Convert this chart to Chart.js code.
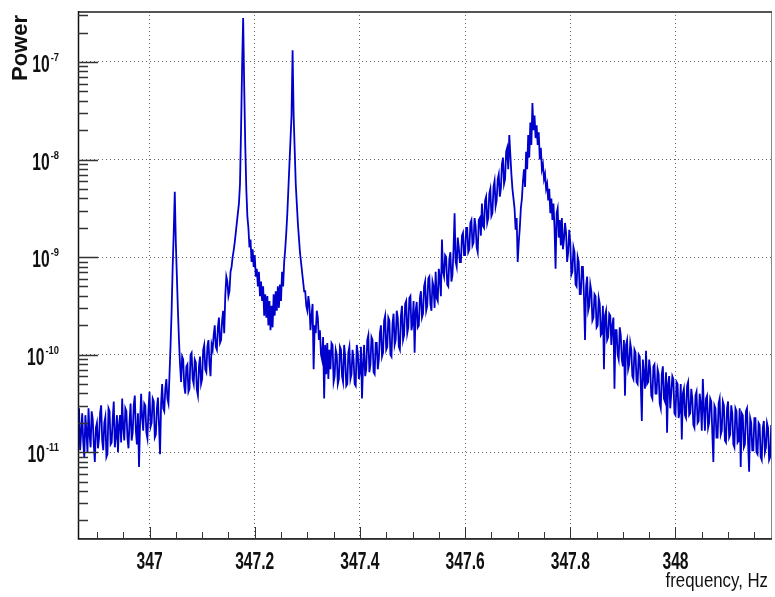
<!DOCTYPE html>
<html>
<head>
<meta charset="utf-8">
<script src="https://cdn.jsdelivr.net/npm/chart.js@4.4.0/dist/chart.umd.min.js"></script>
<style>
  html, body { margin: 0; padding: 0; background: #fff; }
  canvas { display: block; }
</style>
</head>
<body>
<canvas id="spectrum" width="775" height="597"></canvas>
<script>
// frequency bins (Hz) of the spectrum
const freqStart = 346.864;
const freqStep = 0.002;

// log10(power) per bin
const logPower = [
  -10.72, -10.55, -10.98, -10.80, -10.60, -10.90, -11.05, -10.62, -10.78, -11.00, -10.55, -10.82, -10.95, -10.58, -10.66, -10.92, -11.10, -10.75, -10.70, -10.96,
  -10.85, -10.60, -10.52, -10.88, -10.98, -10.70, -10.64, -11.05, -11.02, -10.55, -10.58, -10.92, -10.90, -10.66, -10.48, -10.95, -10.84, -10.62, -11.00, -10.72,
  -10.62, -10.90, -10.45, -10.75, -10.88, -10.55, -10.58, -10.85, -10.96, -10.68, -10.50, -10.88, -10.80, -10.52, -10.42, -10.78, -10.92, -10.60, -11.15, -10.70,
  -10.40, -10.65, -10.78, -10.50, -10.52, -10.80, -10.86, -10.56, -10.38, -10.74, -10.70, -10.45, -10.48, -10.85, -10.82, -10.55, -10.44, -10.72, -11.02, -10.50,
  -10.30, -10.55, -10.58, -10.35, -10.25, -10.45, -10.50, -10.20, -9.90, -9.55, -9.10, -8.75, -8.33, -8.85, -9.20, -9.55, -9.85, -10.10, -10.28, -10.02,
  -10.05, -10.32, -10.40, -10.12, -10.10, -10.38, -10.35, -10.00, -9.98, -10.25, -10.30, -10.05, -10.08, -10.36, -10.42, -10.12, -10.02, -10.30, -10.25, -9.95,
  -9.90, -10.15, -10.18, -9.92, -9.85, -10.10, -10.22, -9.90, -9.95, -9.80, -9.70, -9.92, -9.95, -9.72, -9.62, -9.88, -9.85, -9.65, -9.55, -9.78,
  -9.40, -9.20, -9.25, -9.40, -9.35, -9.15, -9.10, -9.00, -8.93, -8.85, -8.75, -8.65, -8.55, -8.45, -8.25, -7.70, -7.05, -6.55, -7.25, -7.85,
  -8.30, -8.58, -8.70, -8.90, -8.82, -9.05, -8.92, -9.10, -8.98, -9.20, -9.12, -9.30, -9.15, -9.40, -9.25, -9.45, -9.30, -9.60, -9.38, -9.62,
  -9.40, -9.70, -9.45, -9.75, -9.50, -9.72, -9.38, -9.60, -9.35, -9.55, -9.30, -9.52, -9.28, -9.45, -9.15, -9.30, -9.05, -8.92, -8.75, -8.55,
  -8.30, -8.05, -7.80, -7.55, -6.88, -7.55, -7.90, -8.25, -8.45, -8.65, -8.80, -8.95, -9.05, -9.15, -9.25, -9.35, -9.35, -9.50, -9.55, -9.40,
  -9.50, -9.75, -9.60, -9.48, -10.15, -9.70, -9.78, -9.55, -9.62, -9.85, -9.75, -10.00, -10.05, -9.82, -10.45, -9.90, -10.20, -9.88, -10.25, -9.95,
  -10.15, -9.88, -9.90, -10.28, -10.22, -9.95, -10.00, -10.30, -10.25, -9.92, -9.95, -10.22, -10.28, -9.90, -10.02, -10.32, -10.30, -9.98, -9.92, -10.25,
  -10.20, -9.95, -10.05, -10.30, -10.32, -9.90, -9.98, -10.25, -10.18, -9.92, -10.45, -10.10, -9.90, -10.22, -10.15, -9.85, -9.80, -10.18, -10.10, -9.82,
  -9.85, -10.18, -10.20, -9.88, -9.88, -10.15, -10.05, -9.78, -9.70, -10.02, -9.98, -9.65, -9.60, -9.95, -9.92, -9.62, -9.65, -10.00, -10.02, -9.68,
  -9.58, -9.90, -9.85, -9.55, -9.62, -9.92, -9.95, -9.60, -9.50, -9.85, -9.80, -9.48, -9.45, -9.78, -9.72, -9.42, -9.40, -9.75, -9.68, -9.45,
  -9.98, -9.55, -9.46, -9.72, -9.70, -9.42, -9.35, -9.62, -9.58, -9.30, -9.25, -9.55, -9.50, -9.22, -9.20, -9.48, -9.55, -9.25, -9.30, -9.52,
  -9.15, -9.42, -9.45, -9.12, -9.22, -9.40, -8.82, -9.15, -9.20, -8.98, -9.00, -9.28, -9.30, -9.02, -8.95, -9.25, -9.18, -8.92, -8.55, -9.05,
  -9.10, -8.80, -8.90, -9.05, -9.05, -8.78, -8.75, -8.98, -8.98, -8.70, -8.70, -8.95, -8.92, -8.65, -8.62, -8.88, -8.85, -8.60, -8.68, -8.90,
  -8.95, -8.62, -8.60, -8.78, -8.45, -8.68, -8.70, -8.42, -8.38, -8.65, -8.60, -8.35, -8.30, -8.58, -8.55, -8.28, -8.22, -8.48, -8.42, -8.20,
  -8.15, -8.38, -8.30, -8.05, -7.98, -8.25, -8.20, -7.92, -7.88, -8.10, -7.75, -7.95, -8.15, -8.30, -8.40, -8.50, -8.72, -8.60, -9.05, -8.85,
  -8.70, -8.50, -8.40, -8.22, -8.10, -8.28, -7.92, -8.10, -7.75, -7.98, -7.62, -7.85, -7.42, -7.70, -7.55, -7.78, -7.65, -7.85, -7.72, -8.00,
  -7.88, -8.10, -8.05, -8.20, -8.15, -8.30, -8.25, -8.42, -8.30, -8.55, -8.40, -8.62, -8.45, -8.70, -9.12, -8.55, -8.50, -8.80, -8.62, -8.88,
  -8.60, -8.92, -8.82, -8.65, -8.75, -9.05, -8.95, -8.72, -8.85, -9.18, -9.15, -8.90, -8.95, -9.28, -9.30, -9.00, -9.05, -9.38, -9.38, -9.10,
  -9.10, -9.40, -9.85, -9.30, -9.20, -9.55, -9.50, -9.28, -9.35, -9.65, -9.62, -9.38, -9.40, -9.72, -9.70, -9.42, -9.48, -9.80, -9.78, -9.50,
  -10.15, -9.60, -9.55, -9.85, -9.82, -9.58, -9.60, -9.90, -9.70, -9.62, -10.35, -9.75, -9.75, -10.00, -10.05, -9.72, -9.80, -10.05, -10.12, -9.85,
  -10.42, -9.90, -9.85, -10.15, -10.10, -9.88, -9.95, -10.22, -10.25, -9.95, -9.98, -10.28, -10.30, -10.00, -10.02, -10.30, -10.68, -10.05, -10.20, -10.35,
  -9.96, -10.30, -10.28, -10.05, -10.15, -10.42, -10.45, -10.12, -10.10, -10.40, -10.40, -10.15, -10.20, -10.50, -10.55, -10.20, -10.12, -10.45, -10.48, -10.18,
  -10.80, -10.30, -10.22, -10.55, -10.40, -10.22, -10.25, -10.60, -10.62, -10.28, -10.30, -10.65, -10.58, -10.30, -10.87, -10.40, -10.35, -10.62, -10.65, -10.32,
  -10.28, -10.62, -10.60, -10.35, -10.45, -10.72, -10.75, -10.42, -10.38, -10.70, -10.68, -10.40, -10.50, -10.78, -10.25, -10.55, -10.78, -10.45, -10.42, -10.75,
  -10.70, -10.45, -10.48, -10.80, -11.10, -10.52, -10.55, -10.85, -10.85, -10.50, -10.45, -10.82, -10.78, -10.48, -10.52, -10.88, -10.90, -10.55, -10.48, -10.85,
  -10.82, -10.52, -10.60, -10.92, -10.95, -10.55, -10.58, -10.90, -10.88, -10.55, -11.15, -10.60, -10.62, -10.95, -10.92, -10.58, -10.55, -10.90, -11.20, -10.65,
  -10.70, -10.98, -10.98, -10.65, -10.65, -11.00, -11.02, -10.70, -10.72, -11.05, -11.08, -10.75, -10.68, -11.00, -10.95, -10.70, -10.75, -11.08, -11.05, -10.72
];

const xTickValues = [347, 347.2, 347.4, 347.6, 347.8, 348];
const xTickLabels = ['347', '347.2', '347.4', '347.6', '347.8', '348'];
const yTickExponents = [-11, -10, -9, -8, -7];

const points = logPower.map((lp, i) => ({
  x: freqStart + i * freqStep,
  y: Math.pow(10, lp)
}));

// draw condensed text (the original labels are narrow)
function squeezeText(ctx, txt, x, y, font, align, sx) {
  ctx.save();
  ctx.translate(x, y);
  ctx.scale(sx, 1);
  ctx.font = font;
  ctx.textAlign = align;
  ctx.textBaseline = 'alphabetic';
  ctx.fillText(txt, 0, 0);
  ctx.restore();
}

const axisDecor = {
  id: 'axisDecor',
  afterDraw(chart) {
    const { ctx, chartArea: a } = chart;
    const xs = chart.scales.x;
    const ys = chart.scales.y;
    ctx.save();

    // frame
    ctx.lineWidth = 1;
    ctx.strokeStyle = '#888';
    ctx.strokeRect(a.left + 0.5, a.top + 0.5, a.right - a.left - 1, a.bottom - a.top - 1);
    ctx.strokeStyle = '#555';
    ctx.lineWidth = 2;
    ctx.beginPath();
    ctx.moveTo(a.left, a.top + 1);
    ctx.lineTo(a.right, a.top + 1);
    ctx.stroke();
    ctx.strokeStyle = '#111';
    ctx.lineWidth = 1.5;
    ctx.beginPath();
    ctx.moveTo(a.left + 0.5, a.top);
    ctx.lineTo(a.left + 0.5, a.bottom);
    ctx.lineTo(a.right, a.bottom);
    ctx.stroke();

    // y ticks, pointing inwards
    ctx.strokeStyle = '#333';
    ctx.lineWidth = 1.5;
    for (let e = -12; e <= -7; e++) {
      for (let k = 1; k <= 9; k++) {
        const v = k * Math.pow(10, e);
        if (v < ys.min || v > ys.max) continue;
        const py = Math.round(ys.getPixelForValue(v)) + 0.5;
        const len = k === 1 ? 20 : 10;
        ctx.beginPath();
        ctx.moveTo(a.left, py);
        ctx.lineTo(a.left + len, py);
        ctx.stroke();
      }
    }

    // x ticks every 0.05 Hz, pointing inwards
    ctx.lineWidth = 1;
    for (let m = 34690; m / 100 <= xs.max; m += 5) {
      const px = Math.round(xs.getPixelForValue(m / 100)) + 0.5;
      const len = m % 20 === 0 ? 12 : 7;
      ctx.beginPath();
      ctx.moveTo(px, a.bottom);
      ctx.lineTo(px, a.bottom - len);
      ctx.stroke();
    }

    ctx.fillStyle = '#111';
    // x tick labels
    xTickValues.forEach((v, i) => {
      squeezeText(ctx, xTickLabels[i], xs.getPixelForValue(v), 569, 'bold 23px "Liberation Sans", Arial', 'center', 0.68);
    });

    // y tick labels: 10 with superscript exponent
    yTickExponents.forEach(e => {
      const py = ys.getPixelForValue(Math.pow(10, e));
      const expTxt = String(e);
      ctx.font = 'bold 11px "Liberation Sans", Arial';
      const w = ctx.measureText(expTxt).width * 0.85;
      squeezeText(ctx, expTxt, 59 - w, py - 1, 'bold 11px "Liberation Sans", Arial', 'left', 0.85);
      squeezeText(ctx, '10', 59 - w - 1, py + 10, 'bold 23px "Liberation Sans", Arial', 'right', 0.68);
    });

    // axis titles
    squeezeText(ctx, 'frequency, Hz', 768, 587, '21px "Liberation Sans", Arial', 'right', 0.8);
    ctx.save();
    ctx.translate(27, 48);
    ctx.rotate(-Math.PI / 2);
    ctx.font = 'bold 22px "Liberation Sans", Arial';
    ctx.textAlign = 'center';
    ctx.fillText('Power', 0, 0);
    ctx.restore();

    ctx.restore();
  }
};

new Chart(document.getElementById('spectrum'), {
  type: 'line',
  data: {
    datasets: [{
      data: points,
      borderColor: 'rgb(0, 0, 205)',
      borderWidth: 1.8,
      pointRadius: 0,
      tension: 0
    }]
  },
  options: {
    responsive: false,
    devicePixelRatio: 1,
    animation: false,
    events: [],
    layout: { padding: { left: 78, top: 11, right: 3, bottom: 58 } },
    plugins: { legend: { display: false }, tooltip: { enabled: false } },
    scales: {
      x: {
        type: 'linear',
        min: 346.864,
        max: 348.1835,
        afterBuildTicks: s => { s.ticks = xTickValues.map(v => ({ value: v })); },
        afterFit: s => { s.height = 0; },
        ticks: { display: false },
        grid: { color: '#666', lineWidth: 1, drawTicks: false },
        border: { display: false, dash: [1, 3] }
      },
      y: {
        type: 'logarithmic',
        min: 1.29e-12,
        max: 3.33e-7,
        afterBuildTicks: s => { s.ticks = yTickExponents.map(e => ({ value: Math.pow(10, e) })); },
        afterFit: s => { s.width = 0; },
        ticks: { display: false },
        grid: { color: '#666', lineWidth: 1, drawTicks: false },
        border: { display: false, dash: [1, 3] }
      }
    }
  },
  plugins: [axisDecor]
});
</script>
</body>
</html>
